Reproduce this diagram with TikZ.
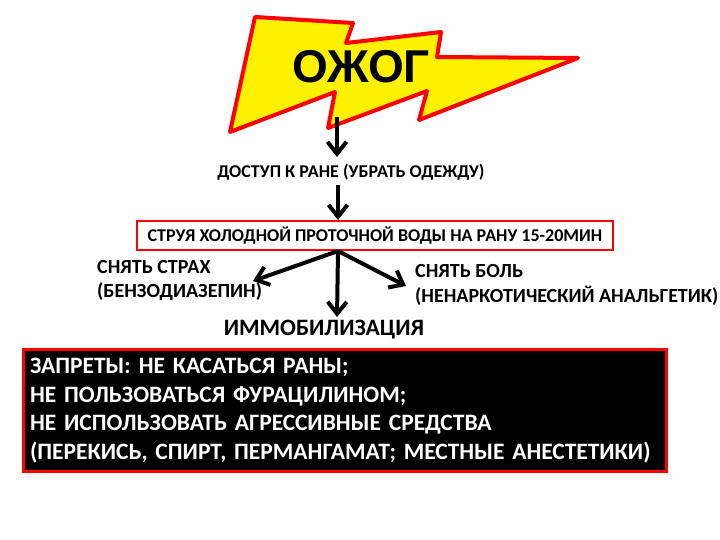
\documentclass[tikz,border=0pt]{standalone}
\usepackage{fontspec}
\setmainfont{Carlito}
\newfontfamily\arialfont{Liberation Sans}
\usetikzlibrary{arrows.meta}
\begin{document}
\begin{tikzpicture}[x=1pt,y=-1pt,
  arr/.style={line width=4pt,-{Straight Barb[length=12pt,width=19pt,line width=4pt]}},
  lbl/.style={font=\bfseries\fontsize{18}{24}\selectfont,inner sep=0pt},
  mid/.style={font=\bfseries\fontsize{20}{24.5}\selectfont,inner sep=0pt},
  big/.style={font=\bfseries\fontsize{23.5}{28.5}\selectfont,inner sep=0pt}]
\useasboundingbox (0,0) rectangle (720,540);
\fill[white] (0,0) rectangle (720,540);
% lightning bolt
\draw[red,line width=4pt,fill=yellow,line join=round]
  (255,17) -- (353,23) -- (346,43) -- (441,32) -- (437,57) -- (578,58)
  -- (419,120) -- (427,91) -- (328,128) -- (335,92) -- (230,132) -- cycle;
\node[font=\arialfont\bfseries\fontsize{46}{46}\selectfont,inner sep=0pt] (burn) at (361,67) {ОЖОГ};
\coordinate (boltbottom) at (337,117);
% nodes
\node[lbl] (access) at (351,172) {ДОСТУП К РАНЕ (УБРАТЬ ОДЕЖДУ)};
\node[lbl,draw=red,line width=2pt,minimum width=476pt,minimum height=29pt] (water) at (375,235.5) {СТРУЯ ХОЛОДНОЙ ПРОТОЧНОЙ ВОДЫ НА РАНУ 15-20МИН};
\node[mid,anchor=west,align=left] (fear) at (97,280.5) {СНЯТЬ СТРАХ\\(БЕНЗОДИАЗЕПИН)};
\node[mid,anchor=west,align=left] (pain) at (415,285) {СНЯТЬ БОЛЬ\\(НЕНАРКОТИЧЕСКИЙ АНАЛЬГЕТИК)};
\node[big] (immob) at (324,330) {ИММОБИЛИЗАЦИЯ};
\node[big,fill=black,draw=red,line width=3pt,text=white,align=left,anchor=north west,
  minimum width=643pt,minimum height=122pt,text width=630pt] (ban) at (22,348)
  {ЗАПРЕТЫ: НЕ КАСАТЬСЯ РАНЫ;\\НЕ ПОЛЬЗОВАТЬСЯ ФУРАЦИЛИНОМ;\\НЕ ИСПОЛЬЗОВАТЬ АГРЕССИВНЫЕ СРЕДСТВА\\(ПЕРЕКИСЬ, СПИРТ, ПЕРМАНГАМАТ; МЕСТНЫЕ АНЕСТЕТИКИ)};
% arrows
\coordinate (accesstop) at (337,157);
\coordinate (accessbottom) at (338,185);
\coordinate (split) at (338,251);
\coordinate (feartip) at (253,281);
\coordinate (paintip) at (406,286);
\coordinate (immobtop) at (337,317);
\draw[arr] (boltbottom) -- (accesstop);
\draw[arr] (accessbottom) -- (water.north -| accessbottom);
\draw[arr] (split) -- (feartip);
\draw[arr] (split) -- (paintip);
\draw[arr] (split) -- (immobtop);
\end{tikzpicture}
\end{document}
